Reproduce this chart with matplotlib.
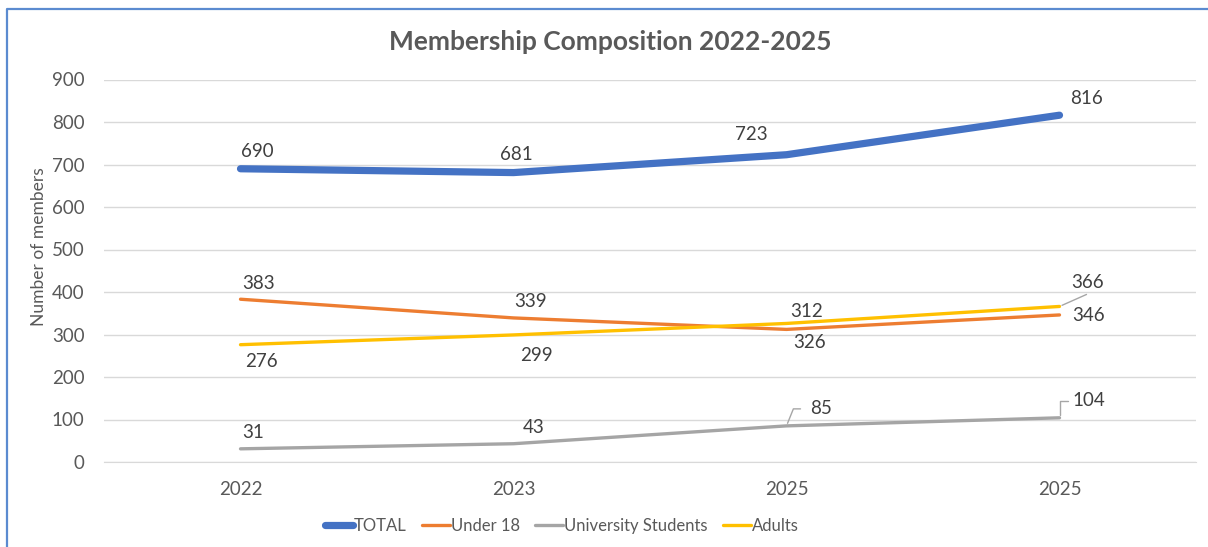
import matplotlib
matplotlib.use("Agg")
import matplotlib.pyplot as plt
from matplotlib.lines import Line2D

# chart data
years = ["2022", "2023", "2025", "2025"]
total = [690, 681, 723, 816]
under_18 = [383, 339, 312, 346]
uni_students = [31, 43, 85, 104]
adults = [276, 299, 326, 366]

plt.rcParams['font.family'] = ['Lato', 'DejaVu Sans']

W, H = 1208, 547
fig = plt.figure(figsize=(W / 100, H / 100), dpi=100)
ax = fig.add_axes([104 / W, 1 - 462 / H, 1092 / W, 382.5 / H])

x = list(range(len(years)))
series = [
    ("TOTAL", total, "#4472C4", 5.2),
    ("Under 18", under_18, "#ED7D31", 2.4),
    ("University Students", uni_students, "#A5A5A5", 2.4),
    ("Adults", adults, "#FFC000", 2.4),
]
for name, vals, col, lw in series:
    ax.plot(x, vals, color=col, lw=lw, label=name, solid_capstyle="round",
            solid_joinstyle="round")

ax.set_xlim(-0.5, 3.5)
ax.set_ylim(0, 900)
ax.set_yticks(range(0, 901, 100))
ax.set_xticks(x)
ax.set_xticklabels(years)
ax.grid(axis="y", color="#D9D9D9", lw=1)
ax.set_axisbelow(True)
for s in ax.spines.values():
    s.set_visible(False)
ax.spines["bottom"].set_visible(True)
ax.spines["bottom"].set_color("#D9D9D9")
ax.tick_params(length=0, labelsize=13.5, colors="#595959")
ax.tick_params(axis="y", pad=14)
ax.tick_params(axis="x", pad=14)

ax.set_ylabel("Number of members", fontsize=12.5, color="#595959")
ax.yaxis.set_label_coords(-0.052, 0.562)

fig.text(0.505, 0.924, "Membership Composition 2022-2025", ha="center", va="center",
         fontsize=19, fontweight="bold", color="#595959")

# data label offsets (pixels)
lbl_color = "#404040"
offsets = {
    "TOTAL": [(17, 17), (3, 18), (-35, 20), (27, 17)],
    "Under 18": [(18, 16), (17, 16), (20, 18), (29, -1)],
    "University Students": [(13, 16), (20, 16), (35, 17), (29, 17)],
    "Adults": [(21, -17), (23, -21), (23, -19), (28, 24)],
}
for name, vals, col, lw in series:
    for i, v in enumerate(vals):
        dx, dy = offsets[name][i]
        ax.annotate(str(v), (i, v), xytext=(dx, dy), textcoords="offset pixels",
                    ha="center", va="center", fontsize=13.5, color=lbl_color)

# leader lines
lead = "#A6A6A6"
ax.annotate("", xy=(3, adults[3]), xytext=(27, 12), textcoords="offset pixels",
            arrowprops=dict(arrowstyle="-", color=lead, lw=1, shrinkA=0, shrinkB=2))
ax.annotate("", xy=(2, uni_students[2]), xytext=(14, 17), textcoords="offset pixels",
            arrowprops=dict(arrowstyle="-", color=lead, lw=1, shrinkA=0, shrinkB=2,
                            connectionstyle="angle,angleA=0,angleB=68,rad=0"))
ax.annotate("", xy=(3, uni_students[3]), xytext=(8, 17), textcoords="offset pixels",
            arrowprops=dict(arrowstyle="-", color=lead, lw=1, shrinkA=0, shrinkB=2,
                            connectionstyle="angle,angleA=0,angleB=90,rad=0"))

leg = fig.legend(loc="center", bbox_to_anchor=(0.465, 0.038), ncol=4, frameon=False,
                 fontsize=12, handlelength=1.7, handletextpad=0.05,
                 columnspacing=0.9)
for t in leg.get_texts():
    t.set_color("#595959")

# blue frame on top and left
frame = "#5B8BD0"
fig.add_artist(Line2D([7 / W, 7 / W, 1], [0, 1 - 9 / H, 1 - 9 / H],
                      transform=fig.transFigure, color=frame, lw=1.6))

fig.savefig("out.png", dpi=100)
